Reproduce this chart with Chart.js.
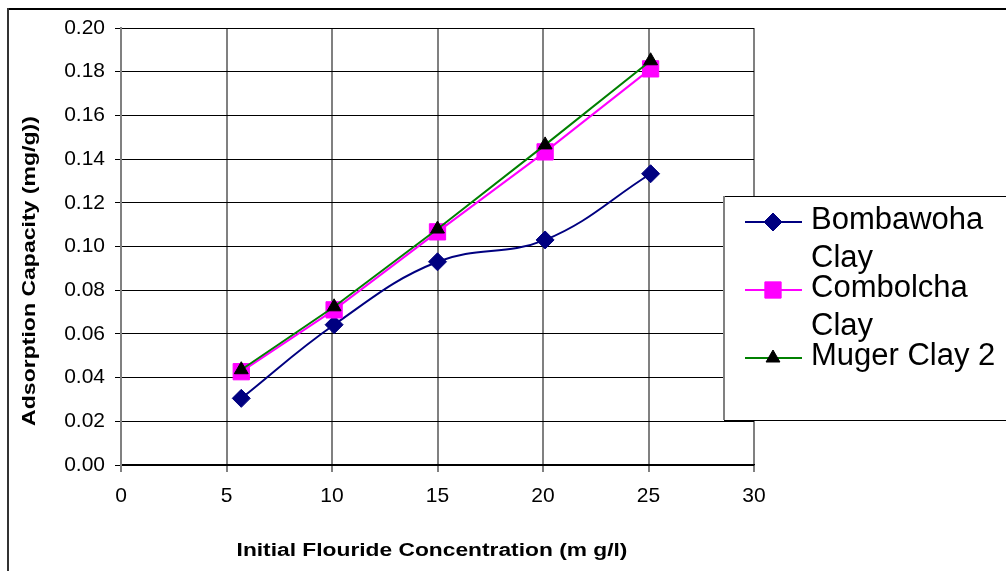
<!DOCTYPE html>
<html>
<head>
<meta charset="utf-8">
<script src="https://cdn.jsdelivr.net/npm/chart.js@4.4.1/dist/chart.umd.min.js"></script>
<style>
html,body{margin:0;padding:0;background:#fff;}
#wrap{width:1006px;height:571px;position:relative;}
</style>
</head>
<body>
<div id="wrap"><canvas id="c" width="1006" height="571"></canvas></div>
<script>
// ---- data ----
const seriesNames = ["Bombawoha Clay", "Combolcha Clay", "Muger Clay 2"];
const xBombawoha = [5.7, 10.1, 15.0, 20.1, 25.1];
const yBombawoha = [0.0305, 0.0642, 0.0930, 0.1030, 0.1333];
const xCombolcha = [5.7, 10.1, 15.0, 20.1, 25.1];
const yCombolcha = [0.0427, 0.0710, 0.1067, 0.1433, 0.1813];
const xMuger = [5.7, 10.1, 15.0, 20.1, 25.1];
const yMuger = [0.0436, 0.0724, 0.1080, 0.1465, 0.1850];
const xTitle = "Initial Flouride Concentration (m g/l)";
const yTitle = "Adsorption Capacity (mg/g))";

const pts = (xs, ys) => xs.map((x, i) => ({x: x, y: ys[i]}));
const FONT = '"Liberation Sans", Arial, sans-serif';

const framePlugin = {
  id: 'frame',
  beforeDraw(chart) {
    const ctx = chart.ctx;
    ctx.save();
    ctx.fillStyle = '#fff';
    ctx.fillRect(0, 0, chart.width, chart.height);
    ctx.strokeStyle = '#000';
    ctx.lineWidth = 2;
    ctx.beginPath();
    ctx.moveTo(8, 9); ctx.lineTo(chart.width, 9);
    ctx.stroke();
    ctx.strokeStyle = '#333';
    ctx.beginPath();
    ctx.moveTo(8, 8); ctx.lineTo(8, chart.height);
    ctx.stroke();
    ctx.restore();
  }
};

// axis titles (stretched horizontally like the original rendering)
const titlePlugin = {
  id: 'axisTitles',
  afterDraw(chart) {
    const ctx = chart.ctx;
    const ca = chart.chartArea;
    ctx.save();
    ctx.fillStyle = '#000';
    ctx.font = 'bold 18px ' + FONT;
    ctx.textAlign = 'center';
    ctx.textBaseline = 'middle';
    // x title
    ctx.save();
    ctx.translate(432, 551);
    ctx.scale(1.265, 1);
    ctx.fillText(xTitle, 0, 0);
    ctx.restore();
    // y title
    ctx.save();
    ctx.translate(30, 271);
    ctx.rotate(-Math.PI / 2);
    ctx.scale(1.28, 1);
    ctx.fillText(yTitle, 0, 0);
    ctx.restore();
    ctx.restore();
  }
};

const legendPlugin = {
  id: 'boxLegend',
  afterDraw(chart) {
    const ctx = chart.ctx;
    ctx.save();
    const bx = 724, by = 196, bw = 300, bh = 224;
    ctx.fillStyle = '#fff';
    ctx.fillRect(bx, by, bw, bh);
    ctx.strokeStyle = '#000';
    ctx.lineWidth = 1;
    ctx.beginPath();
    ctx.moveTo(bx, by + 0.5); ctx.lineTo(bx + bw, by + 0.5);
    ctx.moveTo(bx, by + bh + 0.5); ctx.lineTo(bx + bw, by + bh + 0.5);
    ctx.stroke();
    ctx.strokeStyle = '#808080';
    ctx.lineWidth = 2;
    ctx.beginPath();
    ctx.moveTo(bx, by); ctx.lineTo(bx, by + bh);
    ctx.stroke();

    ctx.font = '31px ' + FONT;
    ctx.textBaseline = 'alphabetic';
    ctx.textAlign = 'left';
    ctx.fillStyle = '#000';
    const lineYs = [222, 290, 358];
    const maxW = 190;
    [0, 1, 2].forEach((dsIdx, k) => {
      const ds = chart.data.datasets[dsIdx];
      const ly = lineYs[k];
      ctx.strokeStyle = ds.borderColor;
      ctx.lineWidth = 2;
      ctx.beginPath();
      ctx.moveTo(745, ly); ctx.lineTo(802, ly);
      ctx.stroke();
      ctx.fillStyle = ds.pointBackgroundColor;
      ctx.strokeStyle = ds.pointBorderColor;
      ctx.lineWidth = ds.pointBorderWidth;
      Chart.helpers.drawPoint(ctx, {
        pointStyle: ds.pointStyle,
        radius: ds.pointRadius,
        borderWidth: ds.pointBorderWidth,
        rotation: 0
      }, 773, ly);
      // wrap text
      const words = ds.label.split(' ');
      const lines = [];
      let cur = '';
      words.forEach(w => {
        const t = cur ? cur + ' ' + w : w;
        if (cur && ctx.measureText(t).width > maxW) { lines.push(cur); cur = w; }
        else cur = t;
      });
      if (cur) lines.push(cur);
      ctx.fillStyle = '#000';
      lines.forEach((ln, j) => {
        ctx.fillText(ln, 811, ly + 7 + j * 38);
      });
    });
    ctx.restore();
  }
};

new Chart(document.getElementById('c'), {
  type: 'line',
  data: {
    datasets: [
      {
        label: seriesNames[0],
        data: pts(xBombawoha, yBombawoha),
        borderColor: '#000080',
        backgroundColor: '#000080',
        pointBackgroundColor: '#000080',
        pointBorderColor: '#000080',
        pointStyle: 'rectRot',
        pointRadius: 9,
        pointBorderWidth: 1,
        borderWidth: 2,
        tension: 0.4,
        order: 2
      },
      {
        label: seriesNames[1],
        data: pts(xCombolcha, yCombolcha),
        borderColor: '#ff00ff',
        backgroundColor: '#ff00ff',
        pointBackgroundColor: '#ff00ff',
        pointBorderColor: '#ff00ff',
        pointStyle: 'rect',
        pointRadius: 11.5,
        pointBorderWidth: 1,
        borderWidth: 2,
        tension: 0,
        order: 1
      },
      {
        label: seriesNames[2],
        data: pts(xMuger, yMuger),
        borderColor: '#008000',
        backgroundColor: '#008000',
        pointBackgroundColor: '#000000',
        pointBorderColor: '#000000',
        pointStyle: 'triangle',
        pointRadius: 8,
        pointBorderWidth: 1,
        borderWidth: 2,
        tension: 0,
        order: 0
      }
    ]
  },
  options: {
    responsive: false,
    animation: false,
    devicePixelRatio: 1,
    layout: { padding: { top: 28, right: 252, left: 0, bottom: 0 } },
    plugins: {
      legend: { display: false },
      tooltip: { enabled: false },
      title: { display: false }
    },
    scales: {
      x: {
        type: 'linear',
        min: 0, max: 30,
        afterFit(s) { s.height = 106; },
        ticks: {
          stepSize: 5,
          color: '#000',
          padding: 12,
          maxRotation: 0,
          font: { family: FONT, size: 21 }
        },
        grid: { color: '#808080', lineWidth: 2, tickLength: 7, drawOnChartArea: true },
        border: { color: '#000', width: 1.5 },
        title: { display: false }
      },
      y: {
        min: 0, max: 0.2,
        afterFit(s) { s.width = 121; },
        ticks: {
          stepSize: 0.02,
          color: '#000',
          padding: 10,
          callback: v => Number(v).toFixed(2),
          font: { family: FONT, size: 21 }
        },
        grid: { color: '#000', lineWidth: 1, tickLength: 6 },
        border: { color: '#808080', width: 2 },
        title: { display: false }
      }
    }
  },
  plugins: [framePlugin, titlePlugin, legendPlugin]
});
</script>
</body>
</html>
